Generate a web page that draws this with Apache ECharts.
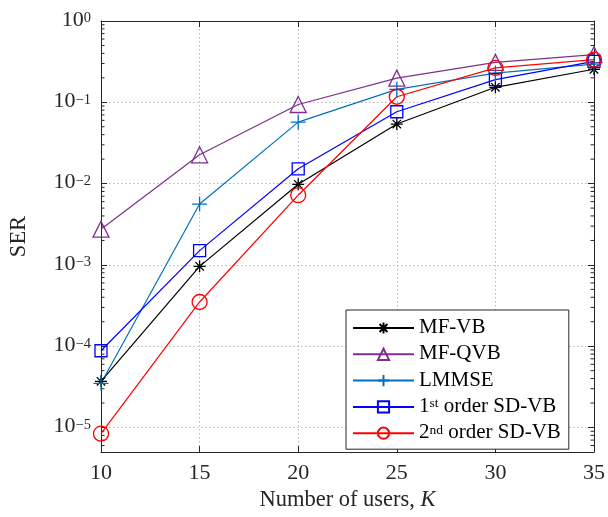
<!DOCTYPE html>
<html>
<head>
<meta charset="utf-8">
<script src="https://cdn.jsdelivr.net/npm/echarts@6/dist/echarts.min.js"></script>
<style>
html,body{margin:0;padding:0;background:#fff;}
#chart{width:608px;height:517px;}
</style>
</head>
<body>
<div id="chart"></div>
<script>
// ---- data ----
var users = [10, 15, 20, 25, 30, 35];
var serMFVB  = [3.7e-5, 9.6e-4, 9.8e-3, 0.054, 0.153, 0.255];
var serMFQVB = [2.75e-3, 0.0226, 0.094, 0.198, 0.31, 0.385];
var serLMMSE = [3.5e-5, 5.6e-3, 0.057, 0.144, 0.228, 0.295];
var serSD1   = [8.8e-5, 1.5e-3, 0.0152, 0.0765, 0.19, 0.318];
var serSD2   = [8.4e-6, 3.5e-4, 7.2e-3, 0.117, 0.265, 0.335];
var seriesNames = ['MF-VB', 'MF-QVB', 'LMMSE', '1st order SD-VB', '2nd order SD-VB'];
var xTicks = [10, 15, 20, 25, 30, 35];
var yMin = 5e-6, yMax = 1;
var minorMultipliers = [2, 3, 4, 5, 6, 7, 8, 9];
var minorDecades = [-6, -5, -4, -3, -2, -1];

var FONT = 'Liberation Serif';
var AX = '#262626';

function pairs(ys) { return users.map(function (x, i) { return [x, ys[i]]; }); }

var minorVals = [];
minorDecades.forEach(function (d) {
  minorMultipliers.forEach(function (m) {
    var v = m * Math.pow(10, d);
    if (v > yMin && v < yMax) minorVals.push([xTicks[0], v]);
  });
});

var asterisk = 'path://M0,-10L0,10M-10,0L10,0M-7,-7L7,7M-7,7L7,-7';
var plus = 'path://M0,-10L0,10M-10,0L10,0';

function mk(name, data, color, symbol, size) {
  return {
    name: name, type: 'line', data: pairs(data),
    symbol: symbol, symbolSize: size,
    showAllSymbol: true,
    color: color,
    lineStyle: { color: color, width: 1.2 },
    itemStyle: { color: 'rgba(0,0,0,0)', borderColor: color, borderWidth: 1.3 },
    emphasis: { disabled: true },
    animation: false,
    z: 3
  };
}

var chart = echarts.init(document.getElementById('chart'), null, { renderer: 'canvas' });

var option = {
  animation: false,
  backgroundColor: '#fff',
  textStyle: { fontFamily: FONT },
  grid: { left: 100, right: 11, top: 21, bottom: 65 },
  xAxis: [{
    type: 'value', min: 10, max: 35, interval: 5, position: 'bottom',
    axisLine: { onZero: false, lineStyle: { color: AX, width: 1 } },
    axisTick: { inside: true, length: 6, lineStyle: { color: AX } },
    axisLabel: { color: AX, fontFamily: FONT, fontSize: 22, margin: 10 },
    splitLine: { show: true, lineStyle: { color: '#b8b8b8', type: [1.5, 2.5], width: 1 } },
    name: 'Number of users, {i|K}', nameLocation: 'middle', nameGap: 37,
    nameTextStyle: { color: AX, fontFamily: FONT, fontSize: 22.5,
      rich: { i: { fontStyle: 'italic', fontFamily: FONT, fontSize: 22.5, color: AX } } }
  }, {
    type: 'value', min: 10, max: 35, interval: 5, position: 'top',
    axisLine: { onZero: false, lineStyle: { color: AX, width: 1 } },
    axisTick: { inside: true, length: 6, lineStyle: { color: AX } },
    axisLabel: { show: false }, splitLine: { show: false }
  }],
  yAxis: [{
    type: 'log', logBase: 10, min: yMin, max: yMax, position: 'left',
    axisLine: { onZero: false, lineStyle: { color: AX, width: 1 } },
    axisTick: { inside: true, length: 6, lineStyle: { color: AX } },
    axisLabel: {
      color: AX, margin: 10, showMinLabel: false,
      formatter: function (v) {
        var e = Math.round(Math.log10(v));
        return '{b|10}{s|' + (e < 0 ? '\u2212' + (-e) : String(e)) + '}';
      },
      rich: {
        b: { fontFamily: FONT, fontSize: 22, lineHeight: 20, color: AX, verticalAlign: 'bottom' },
        s: { fontFamily: FONT, fontSize: 14.5, lineHeight: 12, color: AX, verticalAlign: 'top' }
      }
    },
    splitLine: { show: true, lineStyle: { color: '#b8b8b8', type: [1.5, 2.5], width: 1 } },
    name: 'SER', nameLocation: 'middle', nameGap: 70, nameRotate: 90,
    nameTextStyle: { color: AX, fontFamily: FONT, fontSize: 22.5 }
  }, {
    type: 'log', logBase: 10, min: yMin, max: yMax, position: 'right',
    axisLine: { onZero: false, lineStyle: { color: AX, width: 1 } },
    axisTick: { inside: true, length: 6, lineStyle: { color: AX } },
    axisLabel: { show: false }, splitLine: { show: false }
  }],
  legend: {
    data: seriesNames,
    orient: 'vertical',
    left: 346, top: 310,
    padding: [7, 8, 6, 6],
    itemGap: 5.3,
    itemWidth: 61, itemHeight: 14,
    backgroundColor: '#fff',
    borderColor: AX, borderWidth: 1,
    selectedMode: false,
    textStyle: {
      fontFamily: FONT, fontSize: 21, color: '#000', lineHeight: 20,
      rich: {
        t: { fontFamily: FONT, fontSize: 21, color: '#000', lineHeight: 20, verticalAlign: 'bottom' },
        s: { fontFamily: FONT, fontSize: 13.5, color: '#000', lineHeight: 12, verticalAlign: 'top' }
      }
    },
    formatter: function (name) {
      var m = name.match(/^(\d)(st|nd)(.*)$/);
      if (m) return '{t|' + m[1] + '}{s|' + m[2] + '}{t|' + m[3] + '}';
      return '{t|' + name + '}';
    }
  },
  series: [
    mk(seriesNames[0], serMFVB, '#000000', asterisk, 12),
    mk(seriesNames[1], serMFQVB, '#7E2F8E', 'triangle', 16),
    mk(seriesNames[2], serLMMSE, '#0072BD', plus, 15),
    mk(seriesNames[3], serSD1, '#0000FF', 'rect', 12),
    mk(seriesNames[4], serSD2, '#FF0000', 'circle', 15),
    {
      type: 'custom', silent: true, data: minorVals, z: 2,
      xAxisIndex: 0, yAxisIndex: 0,
      renderItem: function (params, api) {
        var v = api.value(1);
        var pL = api.coord([xTicks[0], v]);
        var pR = api.coord([xTicks[xTicks.length - 1], v]);
        return {
          type: 'group',
          children: [
            { type: 'line', shape: { x1: pL[0], y1: pL[1], x2: pL[0] + 3.5, y2: pL[1] }, style: { stroke: AX, lineWidth: 1 } },
            { type: 'line', shape: { x1: pR[0] - 3.5, y1: pR[1], x2: pR[0], y2: pR[1] }, style: { stroke: AX, lineWidth: 1 } }
          ]
        };
      }
    }
  ]
};
chart.setOption(option);
</script>
</body>
</html>
